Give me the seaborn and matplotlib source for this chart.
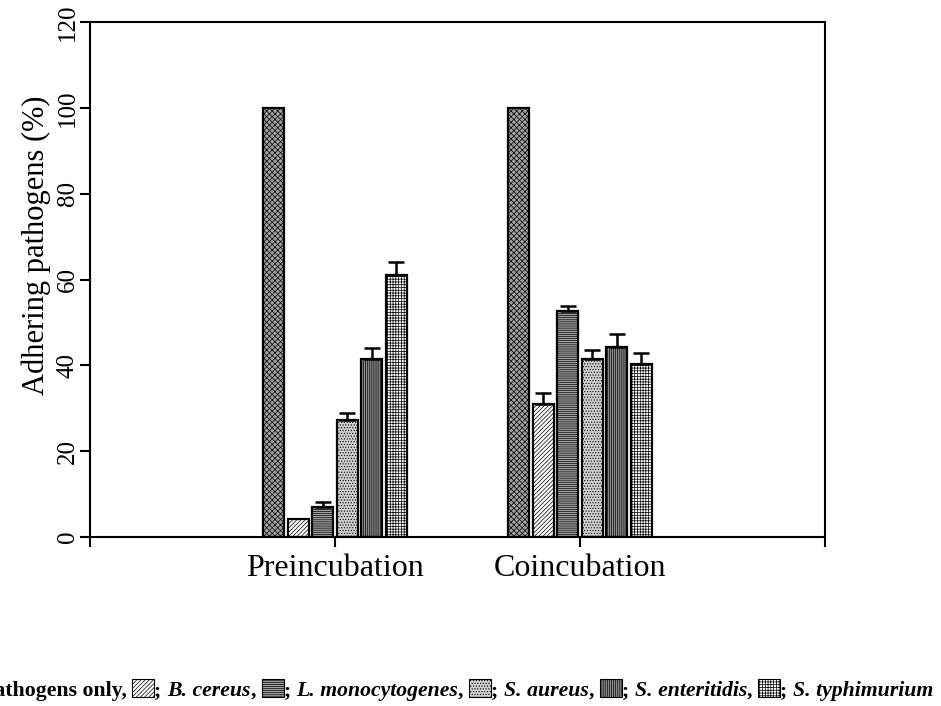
import numpy as np
import pandas as pd
import matplotlib
matplotlib.use("Agg")
import matplotlib.pyplot as plt
import seaborn as sns
from matplotlib.patches import Rectangle

# ---- data ----
conditions = ["Preincubation", "Coincubation"]
groups = ["Pathogens only", "B. cereus", "L. monocytogenes", "S. aureus",
          "S. enteritidis", "S. typhimurium"]
pre_values = [100, 4.3, 7.0, 27.2, 41.5, 61.0]
co_values = [100, 31.0, 52.7, 41.5, 44.2, 40.2]
pre_err = [0, 0, 1.1, 1.8, 2.6, 3.1]
co_err = [0, 2.6, 1.2, 2.0, 3.0, 2.6]
yticks = [0, 20, 40, 60, 80, 100, 120]

sns.set_theme(style="ticks")
plt.rcParams["font.family"] = ["Liberation Serif", "DejaVu Serif"]
plt.rcParams["hatch.linewidth"] = 0.5
plt.rcParams["text.color"] = "black"
plt.rcParams["axes.labelcolor"] = "black"
plt.rcParams["xtick.color"] = "black"
plt.rcParams["ytick.color"] = "black"

df = pd.DataFrame({
    "condition": np.repeat(conditions, len(groups)),
    "group": groups * 2,
    "value": pre_values + co_values,
})
errs = {"Preincubation": pre_err, "Coincubation": co_err}

faces = ["#a0a0a0", "#ffffff", "#a0a0a0", "#cfcfcf", "#8c8c8c", "#ffffff"]
hatches = ["xxxxxx", "////////", "--------", "......", "||||||||", "++++++"]

fig = plt.figure(figsize=(9.41, 7.06), dpi=100)
W, H = 941, 706
ax = fig.add_axes([90 / W, 1 - 537 / H, (825 - 90) / W, (537 - 22) / H])

sns.barplot(data=df, x="condition", y="value", hue="group", order=conditions,
            hue_order=groups, width=0.6, gap=0.14, palette=faces,
            errorbar=None, legend=False, ax=ax, saturation=1)

bar_containers = list(ax.containers)
for i, cont in enumerate(bar_containers):
    for j, bar in enumerate(cont):
        bar.set_hatch(hatches[i])
        bar.set_edgecolor("black")
        bar.set_linewidth(1.6)
        e = errs[conditions[j]][i]
        if e > 0:
            xc = bar.get_x() + bar.get_width() / 2
            ax.errorbar(xc, bar.get_height(), yerr=[[0], [e]], fmt="none",
                        ecolor="black", elinewidth=1.8, capsize=6, capthick=1.8,
                        zorder=5)

ax.set_xlim(-1, 2)
ax.set_ylim(0, 120)
ax.set_xticks([-1, 0, 1, 2])
ax.set_xticklabels(["", "Preincubation", "Coincubation", ""], fontsize=23,
                   color="black")
ax.set_yticks(yticks)
ax.set_yticklabels([str(v) for v in yticks], fontsize=18, rotation=90,
                   va="center", color="black")
ax.set_xlabel("")
ax.set_ylabel("Adhering pathogens (%)", fontsize=22, color="black")
ax.yaxis.set_label_coords((36 - 90) / 735, (537 - 245) / 515)
ax.yaxis.label.set_va("center")
ax.tick_params(axis="both", direction="out", length=7, width=1.5, colors="black")
ax.tick_params(axis="x", pad=5)
ax.tick_params(axis="y", pad=1)
for s in ax.spines.values():
    s.set_visible(True)
    s.set_linewidth(1.5)
    s.set_color("black")

# ---- bottom legend line ----
fig.canvas.draw()
renderer = fig.canvas.get_renderer()
y_base = 1 - 696 / H
fs = 15.7
x = -19.0
sw_w, sw_h = 22, 18

def put_text(s, style="normal"):
    global x
    t = fig.text(x / W, y_base, s, fontsize=fs, fontweight="bold",
                 fontstyle=style, ha="left", va="baseline", color="black")
    bb = t.get_window_extent(renderer)
    x += bb.width

def put_swatch(k):
    global x
    r = Rectangle((x / W, y_base - 1 / H), sw_w / W, sw_h / H,
                  transform=fig.transFigure, facecolor=faces[k],
                  edgecolor="black", linewidth=0.8, hatch=hatches[k])
    fig.add_artist(r)
    x += sw_w

put_text("Pathogens only, ")
for k in range(1, len(groups)):
    put_swatch(k)
    put_text("; ")
    put_text(groups[k], "italic")
    if k < len(groups) - 1:
        put_text(", ")

fig.savefig("out.png", dpi=100)
